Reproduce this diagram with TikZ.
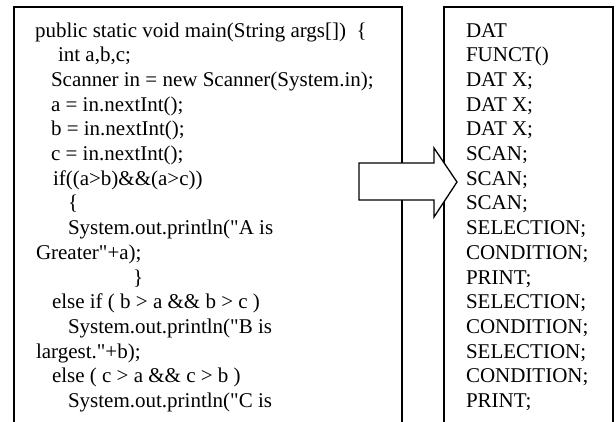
\documentclass[tikz,border=0pt]{standalone}
\usepackage{fontspec}
\setmainfont{Liberation Serif}[Ligatures=TeXOff]
\begin{document}
\begin{tikzpicture}[x=1pt, y=-1pt,
  frame/.style={line width=1.5pt, line join=miter},
  blockarrow/.style={line width=1.3pt, fill=white, line join=miter},
  codeline/.style={anchor=base west, inner sep=0pt, outer sep=0pt,
    font=\fontsize{21}{24.7}\selectfont}]
  % canvas
  \fill[white] (0,0) rectangle (616,421);
  \useasboundingbox (0,0) rectangle (616,421);

  % open-bottomed frames for the source and the token listing
  \coordinate (srcBL) at (14,430);
  \coordinate (srcTL) at (14,7);
  \coordinate (srcTR) at (402,7);
  \coordinate (srcBR) at (402,430);
  \coordinate (tokBL) at (444,430);
  \coordinate (tokTL) at (444,7);
  \coordinate (tokTR) at (613,7);
  \coordinate (tokBR) at (613,430);
  \draw[frame] (srcBL) -- (srcTL) -- (srcTR) -- (srcBR);
  \draw[frame] (tokBL) -- (tokTL) -- (tokTR) -- (tokBR);

  % Java source
  \node[codeline] (s1)  at (35,37.0)  {public static void main(String args[])~~\{};
  \node[codeline] (s2)  at (58,61.7)  {int a,b,c;};
  \node[codeline] (s3)  at (51,86.4)  {Scanner in = new Scanner(System.in);};
  \node[codeline] (s4)  at (51,111.1) {a = in.nextInt();};
  \node[codeline] (s5)  at (51,135.8) {b = in.nextInt();};
  \node[codeline] (s6)  at (51,160.5) {c = in.nextInt();};
  \node[codeline] (s7)  at (53,185.2) {if((a>b)\&\&(a>c))};
  \node[codeline] (s8)  at (68,209.9) {\{};
  \node[codeline] (s9)  at (68,234.6) {System.out.println("A is};
  \node[codeline] (s10) at (36,259.3) {Greater"+a);};
  \node[codeline] (s11) at (133,284.0) {\}};
  \node[codeline] (s12) at (52,308.7) {else if ( b > a \&\& b > c )};
  \node[codeline] (s13) at (68,333.4) {System.out.println("B is};
  \node[codeline] (s14) at (36,358.1) {largest."+b);};
  \node[codeline] (s15) at (52,382.8) {else ( c > a \&\& c > b )};
  \node[codeline] (s16) at (68,407.5) {System.out.println("C is};

  % token listing
  \node[codeline] (t1)  at (466,37.0)  {DAT};
  \node[codeline] (t2)  at (466,61.7)  {FUNCT()};
  \node[codeline] (t3)  at (466,86.4)  {DAT X;};
  \node[codeline] (t4)  at (466,111.1) {DAT X;};
  \node[codeline] (t5)  at (466,135.8) {DAT X;};
  \node[codeline] (t6)  at (466,160.5) {SCAN;};
  \node[codeline] (t7)  at (466,185.2) {SCAN;};
  \node[codeline] (t8)  at (466,209.9) {SCAN;};
  \node[codeline] (t9)  at (466,234.6) {SELECTION;};
  \node[codeline] (t10) at (466,259.3) {CONDITION;};
  \node[codeline] (t11) at (466,284.0) {PRINT;};
  \node[codeline] (t12) at (466,308.7) {SELECTION;};
  \node[codeline] (t13) at (466,333.4) {CONDITION;};
  \node[codeline] (t14) at (466,358.1) {SELECTION;};
  \node[codeline] (t15) at (466,382.8) {CONDITION;};
  \node[codeline] (t16) at (466,407.5) {PRINT;};

  % hollow block arrow from source to tokens
  \draw[blockarrow] (359,163) -- (434,163) -- (434,148) -- (457,182)
    -- (434,217) -- (434,200) -- (359,200) -- cycle;
\end{tikzpicture}
\end{document}
